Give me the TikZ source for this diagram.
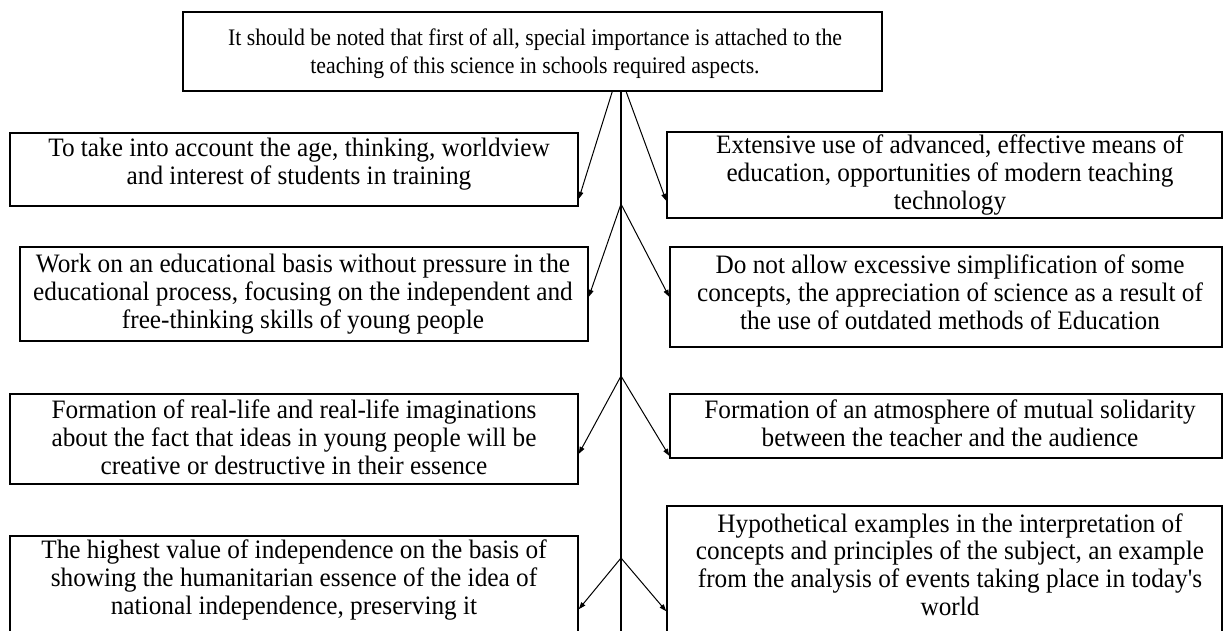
\documentclass[tikz,border=0pt]{standalone}
\usepackage{fontspec}
\setmainfont{Liberation Serif}
\newfontfamily\sidefont[FakeStretch=0.95]{Liberation Serif}
\newfontfamily\topfont[FakeStretch=0.92]{Liberation Serif}
\usetikzlibrary{arrows.meta}
\begin{document}
\begin{tikzpicture}[x=1pt,y=-1pt,
  box/.style={draw, line width=1.6pt, inner sep=0pt, rectangle},
  txt/.style={align=center, font=\sidefont\fontsize{26.6}{27.8}\selectfont, inner sep=0pt},
  toptxt/.style={align=center, font=\topfont\fontsize{23.7}{27.8}\selectfont, inner sep=0pt},
  arr/.style={line width=1pt, -{Triangle[length=7pt,width=5pt]}},
  trunk/.style={line width=1.3pt}]
\useasboundingbox (0,0) rectangle (1225,631);
\clip (0,0) rectangle (1225,631);
\fill[white] (0,0) rectangle (1225,631);

% top box
\node[box, minimum width=699pt, minimum height=79pt] (T) at (532.5,51.5) {};
\node[toptxt] (Tt) at (535,54) {It should be noted that first of all, special importance is attached to the\\teaching of this science in schools required aspects.};

% trunk coordinates
\coordinate (b2) at (621,204);
\coordinate (b3) at (621,376);
\coordinate (b4) at (621,558);
\coordinate (bot) at (621,640);

% left boxes
\node[box, minimum width=568pt, minimum height=73pt] (L1) at (294,169.5) {};
\node[txt] (L1t) at (299,164) {To take into account the age, thinking, worldview\\and interest of students in training};
\node[box, minimum width=568pt, minimum height=94pt] (L2) at (304,294) {};
\node[txt] (L2t) at (303,294) {Work on an educational basis without pressure in the\\educational process, focusing on the independent and\\free-thinking skills of young people};
\node[box, minimum width=568pt, minimum height=90pt] (L3) at (294,439) {};
\node[txt] (L3t) at (294,437) {Formation of real-life and real-life imaginations\\about the fact that ideas in young people will be\\creative or destructive in their essence};
\node[box, minimum width=568pt, minimum height=124pt] (L4) at (294,598) {};
\node[txt] (L4t) at (294,580) {The highest value of independence on the basis of\\showing the humanitarian essence of the idea of\\national independence, preserving it};

% right boxes
\node[box, minimum width=555pt, minimum height=86pt] (R1) at (944.5,175) {};
\node[txt] (R1t) at (950,175) {Extensive use of advanced, effective means of\\education, opportunities of modern teaching\\technology};
\node[box, minimum width=552pt, minimum height=100pt] (R2) at (946,297) {};
\node[txt] (R2t) at (950,292) {Do not allow excessive simplification of some\\concepts, the appreciation of science as a result of\\the use of outdated methods of Education};
\node[box, minimum width=552pt, minimum height=64pt] (R3) at (946,426) {};
\node[txt] (R3t) at (950,423.5) {Formation of an atmosphere of mutual solidarity\\between the teacher and the audience};
\node[box, minimum width=555pt, minimum height=154pt] (R4) at (944.5,583) {};
\node[txt] (R4t) at (950,564.5) {Hypothetical examples in the interpretation of\\concepts and principles of the subject, an example\\from the analysis of events taking place in today's\\world};

% trunk
\draw[trunk] (T.south -| bot) -- (bot);

% branches
\draw[arr] ([xshift=430pt]T.south west) -- ([yshift=8pt]L1.south east);
\draw[arr] ([xshift=444pt]T.south west) -- ([yshift=18pt]R1.south west);
\draw[arr] (b2) -- ([yshift=45pt]L2.south east);
\draw[arr] (b2) -- ([yshift=51pt]R2.south west);
\draw[arr] (b3) -- ([yshift=31pt]L3.south east);
\draw[arr] (b3) -- ([yshift=3pt]R3.south west);
\draw[arr] (b4) -- ([yshift=-74pt]L4.north east);
\draw[arr] (b4) -- ([yshift=-106pt]R4.north west);
\end{tikzpicture}
\end{document}
